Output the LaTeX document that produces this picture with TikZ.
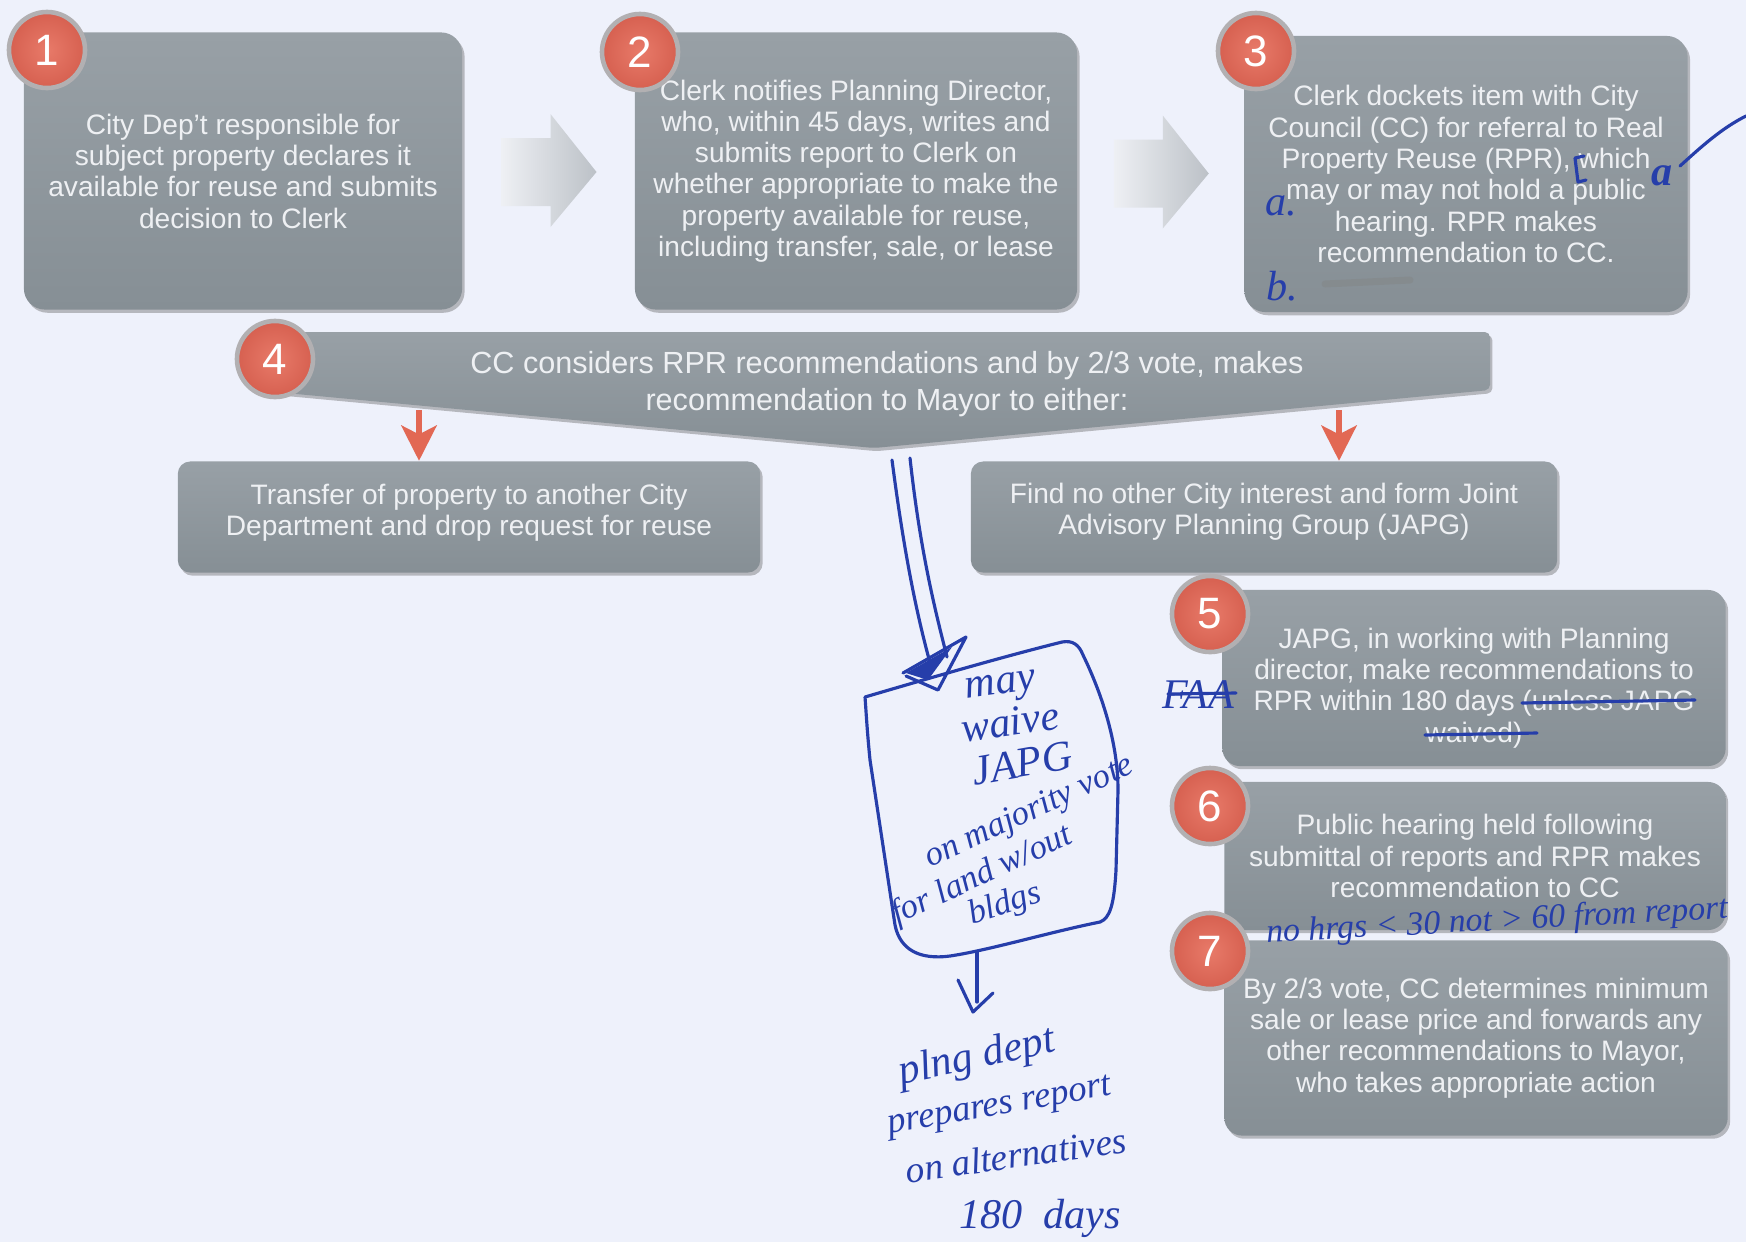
\documentclass[tikz,border=0pt]{standalone}
\usepackage{fontspec}
\setmainfont{Liberation Sans}
\newfontfamily\handfont{Liberation Serif}
\usetikzlibrary{arrows.meta,calc,shadows}
\definecolor{bg}{RGB}{238,241,251}
\definecolor{boxtop}{RGB}{152,160,166}
\definecolor{boxbot}{RGB}{134,143,149}
\definecolor{boxtext}{RGB}{238,240,243}
\definecolor{numin}{RGB}{232,122,105}
\definecolor{numout}{RGB}{214,96,80}
\definecolor{numring}{RGB}{178,176,178}
\definecolor{redarr}{RGB}{226,104,84}
\definecolor{arrlight}{RGB}{238,240,244}
\definecolor{arrdark}{RGB}{188,193,199}
\definecolor{ink}{RGB}{38,62,170}
\tikzset{
  box/.style={rounded corners=6pt, top color=boxtop, bottom color=boxbot, text=boxtext,
    align=center, inner sep=0pt, font=\fontsize{8}{8.9}\selectfont,
    drop shadow={shadow xshift=0.7pt, shadow yshift=-0.9pt, opacity=0.35, fill=black!70}},
  smallbox/.style={box, rounded corners=3.5pt},
  num/.style={circle, inner color=numin, outer color=numout, draw=numring, line width=1.3pt,
    minimum size=0.76cm, inner sep=0pt, text=white, font=\fontsize{12.5}{12.5}\selectfont},
  blockarrow/.style={left color=arrlight, right color=arrdark},
  downarrow/.style={draw=redarr, line width=1.8pt, -{Stealth[length=10pt,width=10pt,inset=2.5pt]}},
  handtext/.style={text=ink, inner sep=0pt, font=\handfont\itshape\fontsize{12}{12}\selectfont},
  inkline/.style={draw=ink, line width=0.9pt, line cap=round, line join=round},
}
\begin{document}
\begin{tikzpicture}[x=0.01cm,y=-0.01cm]
\useasboundingbox (0,0) rectangle (1746,1242);
\fill[bg] (0,0) rectangle (1746,1242);

% top row boxes
\node[box, minimum width=4.38cm, minimum height=2.77cm] (b1) at (243,171)
  {City Dep’t responsible for\\subject property declares it\\available for reuse and submits\\decision to Clerk};
\node[box, minimum width=4.42cm, minimum height=2.77cm] (b2) at (856,171)
  {Clerk notifies Planning Director,\\who, within 45 days, writes and\\submits report to Clerk on\\whether appropriate to make the\\property available for reuse,\\including transfer, sale, or lease};
\node[box, minimum width=4.43cm, minimum height=2.76cm] (b3) at (1466,174)
  {Clerk dockets item with City\\Council (CC) for referral to Real\\Property Reuse (RPR), which\\may or may not hold a public\\hearing. RPR makes\\recommendation to CC.};

% block arrows between top boxes
\coordinate (m12) at ($(b1.east)!0.5!(b2.west)$);
\coordinate (m23) at ($(b2.east)!0.5!(b3.west)$);
\foreach \m in {m12,m23}{
  \path[blockarrow] ($(\m)+(-47,-33)$) -- ($(\m)+(2,-33)$) -- ($(\m)+(2,-57)$) -- ($(\m)+(48,1)$)
     -- ($(\m)+(2,56)$) -- ($(\m)+(2,35)$) -- ($(\m)+(-47,35)$) -- cycle;
}

% box 4 (down-pointing banner)
\path[top color=boxtop, bottom color=boxbot, rounded corners=1.5pt,
      drop shadow={shadow xshift=0.7pt, shadow yshift=-0.9pt, opacity=0.35, fill=black!70}]
  (275,332) -- (1490,332) -- (1490,390) -- (874,448) -- (275,392) -- cycle;
\node[text=boxtext, align=center, font=\fontsize{8.7}{10.5}\selectfont] (b4) at (887,384)
  {CC considers RPR recommendations and by 2/3 vote, makes\\recommendation to Mayor to either:};

% option boxes
\node[smallbox, minimum width=5.82cm, minimum height=1.11cm] (bA) at (469,517)
  {Transfer of property to another City\\Department and drop request for reuse\rule[-4pt]{0pt}{4pt}};
\node[smallbox, minimum width=5.86cm, minimum height=1.11cm] (bB) at (1264,517)
  {Find no other City interest and form Joint\\Advisory Planning Group (JAPG)\rule[-4.5pt]{0pt}{4.5pt}};

\coordinate (dl) at (419,410);
\coordinate (dr) at (1339,410);
\draw[downarrow] (dl) -- (dl |- bA.north);
\draw[downarrow] (dr) -- (dr |- bB.north);

% right column boxes
\node[box, rounded corners=5pt, minimum width=5.03cm, minimum height=1.76cm] (b5) at (1474,678)
  {\rule{0pt}{11.5pt}JAPG, in working with Planning\\director, make recommendations to\\RPR within 180 days (unless JAPG\\waived)};
\node[box, rounded corners=5pt, minimum width=5.01cm, minimum height=1.48cm] (b6) at (1475,856)
  {Public hearing held following\\submittal of reports and RPR makes\\recommendation to CC};
\node[box, rounded corners=5pt, minimum width=5.03cm, minimum height=1.95cm] (b7) at (1476,1038)
  {By 2/3 vote, CC determines minimum\\sale or lease price and forwards any\\other recommendations to Mayor,\\who takes appropriate action};

% number badges
\node[num] (c1) at (47,50) {1};
\node[num] (c2) at (640,52) {2};
\node[num] (c3) at (1256,51) {3};
\node[num] (c4) at (275,359) {4};
\node[num] (c5) at (1210,614) {5};
\node[num] (c6) at (1210,806) {6};
\node[num] (c7) at (1210,951) {7};

% ---- handwritten annotations ----
% box 3 marks
\node[handtext] (ha) at (1281,206) {a.};
\node[handtext] (hb) at (1282,286) {b.};
\draw[gray, line width=2pt, opacity=0.35, line cap=round] (1325,284) -- (1410,280);
\draw[inkline] (1584,156) -- (1575,158) -- (1578,182) -- (1586,180);
\node[handtext, font=\handfont\bfseries\itshape\fontsize{12}{12}\selectfont] (hc) at (1662,176) {a};
\draw[inkline] (1680,166) .. controls (1702,146) and (1722,128) .. (1746,116);

% box 5 marks
\draw[inkline] (1522,703) -- (1695,700);
\draw[inkline] (1425,735) -- (1537,733);
\node[handtext] (hf) at (1198,695) {FAA};
\draw[inkline] (1168,694) -- (1236,693);

% note under box 6
\node[handtext, rotate=3, font=\handfont\itshape\fontsize{9.6}{9.6}\selectfont] (hn) at (1497,922)
  {no hrgs < 30 not > 60 from report};

% lines from banner to hand-drawn box
\draw[inkline] (892,460) .. controls (905,560) and (918,620) .. (932,670);
\draw[inkline] (910,458) .. controls (920,550) and (935,610) .. (947,657);
\draw[inkline] (903,673) -- (966,637) -- (938,690) -- (906,676);
\fill[ink] (906,673) -- (952,647) -- (928,680) -- cycle;

% hand-drawn box
\draw[inkline] (865,697) .. controls (950,672) and (1010,655) .. (1062,642)
  .. controls (1073,640) and (1079,645) .. (1083,655)
  .. controls (1100,690) and (1118,740) .. (1118,790) -- (1116,870)
  .. controls (1114,905) and (1110,918) .. (1100,922)
  .. controls (1050,932) and (990,950) .. (950,956)
  .. controls (920,960) and (900,950) .. (895,925)
  -- (870,760) .. controls (867,730) and (866,710) .. (865,697);
\node[handtext, rotate=8] (h1) at (1001,688) {may};
\node[handtext, rotate=8] (h2) at (1010,722) {waive};
\node[handtext, rotate=10] (h3) at (1022,763) {JAPG};
\node[handtext, rotate=25, font=\handfont\itshape\fontsize{9.8}{9.8}\selectfont] (h4) at (1030,813) {on majority vote};
\node[handtext, rotate=25, font=\handfont\itshape\fontsize{9.8}{9.8}\selectfont] (h5) at (982,876) {for land w/out};
\node[handtext, rotate=18, font=\handfont\itshape\fontsize{9.8}{9.8}\selectfont] (h6) at (1005,905) {bldgs};

% arrow to bottom note
\draw[inkline] (977,952) -- (977,1002);
\draw[inkline] (958,980) -- (973,1012) -- (993,993);

\node[handtext, rotate=12] (h7) at (977,1058) {plng dept};
\node[handtext, rotate=10, font=\handfont\itshape\fontsize{10.4}{10.4}\selectfont] (h8) at (1000,1108) {prepares report};
\node[handtext, rotate=8, font=\handfont\itshape\fontsize{10.6}{10.6}\selectfont] (h9) at (1016,1155) {on alternatives};
\node[handtext] (h10) at (1040,1218) {180\ \ days};
\end{tikzpicture}
\end{document}
